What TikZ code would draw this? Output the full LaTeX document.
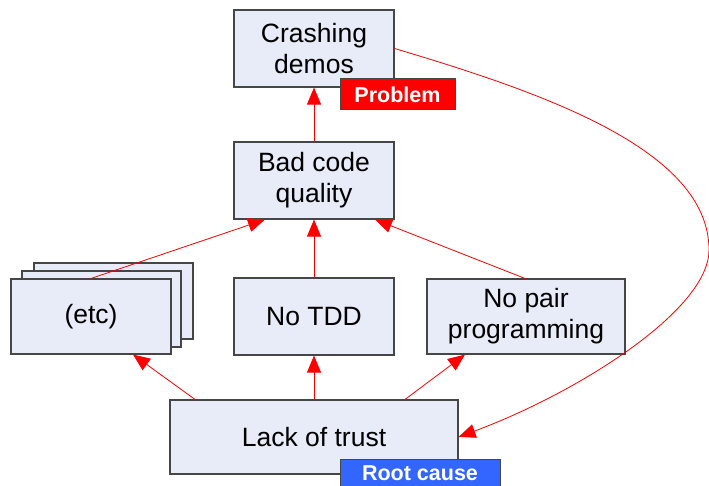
\documentclass[tikz,border=0pt]{standalone}
\usepackage{fontspec}
\setmainfont{Liberation Sans}
\usetikzlibrary{arrows.meta,calc}
\definecolor{boxfill}{RGB}{232,236,248}
\definecolor{boxline}{RGB}{70,70,70}
\definecolor{rootblue}{RGB}{51,102,255}
\begin{document}
\begin{tikzpicture}[x=1pt,y=-1pt,
  box/.style={draw=boxline,fill=boxfill,line width=1.1pt,inner sep=0pt,align=center,
    font=\fontsize{26.5}{31}\selectfont},
  tag/.style={draw=boxline,line width=1pt,inner sep=0pt,text=white,
    font=\fontsize{21.5}{25}\selectfont\bfseries},
  link/.style={draw=red,line width=0.8pt,-{Triangle[length=17pt,width=14pt]}}]
\useasboundingbox (0,0) rectangle (709,486);
% stacked (etc) boxes
\node[box,minimum width=159pt,minimum height=76pt] (etc3) at (113.5,301) {};
\node[box,minimum width=159pt,minimum height=76pt] (etc2) at (101.5,309) {};
\node[box,minimum width=160pt,minimum height=75pt] (etc) at (91,316.5) {(etc)};
% main boxes
\node[box,minimum width=160pt,minimum height=77pt] (crash) at (314,48.5) {Crashing\\demos};
\node[box,minimum width=160pt,minimum height=77pt] (bad) at (314,180.5) {Bad code\\quality};
\node[box,minimum width=160pt,minimum height=77pt] (tdd) at (314,316.5) {No TDD};
\node[box,minimum width=198pt,minimum height=75pt] (pair) at (526,316.5) {No pair\\programming};
\node[box,minimum width=288pt,minimum height=74pt] (trust) at (314,437) {Lack of trust};
% tags
\node[tag,fill=red,minimum width=115pt,minimum height=31pt] (prob) at (397.5,94.5) {Problem};
\node[tag,fill=rootblue,minimum width=160pt,minimum height=28pt] (root) at (420,473.5) {Root cause};
% connectors
\draw[link] (bad.north) -- (crash.south);
\draw[link] (tdd.north) -- (bad.south);
\draw[link] (etc.north) -- ([xshift=-49pt]bad.south);
\draw[link] ([xshift=-1pt]pair.north) -- ([xshift=61pt]bad.south);
\draw[link] (trust.north) -- (tdd.south);
\draw[link] ([xshift=-119pt]trust.north) -- ([xshift=42pt]etc.south);
\draw[link] ([xshift=91pt]trust.north) -- ([xshift=-61pt]pair.south);
\coordinate (peak) at (709,250);
\draw[link] (crash.east) .. controls (544,93) and (709,150) .. (peak)
  .. controls (709,310) and (578,392.6) .. (trust.east);
\end{tikzpicture}
\end{document}
